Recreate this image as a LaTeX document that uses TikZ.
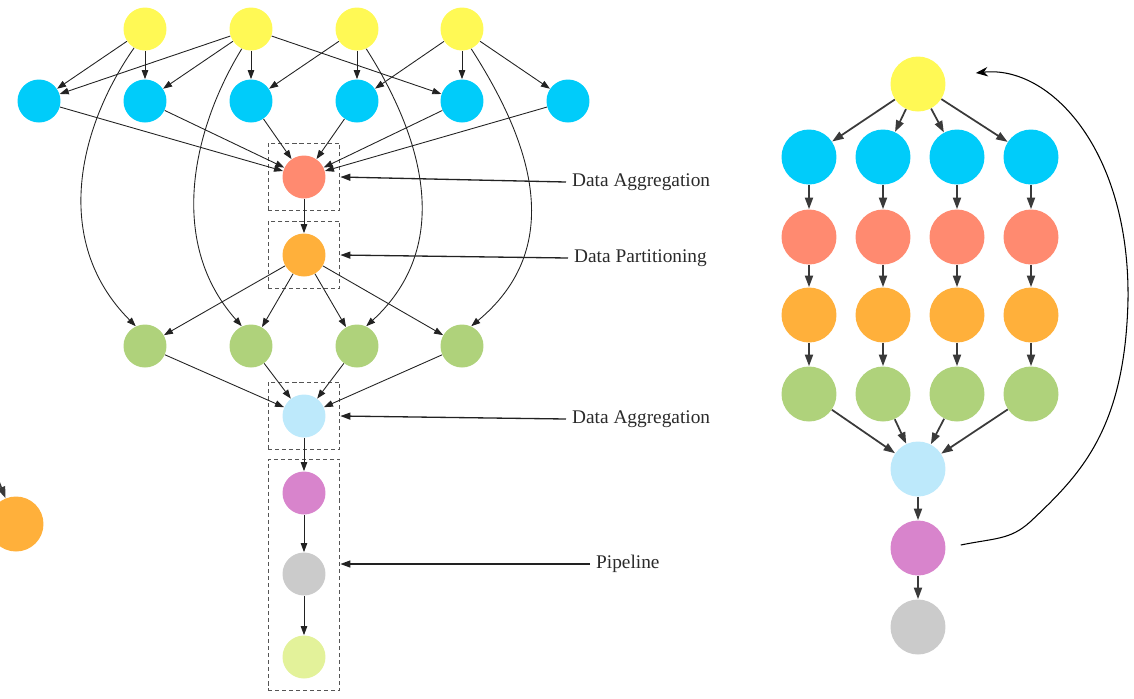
\documentclass[tikz,border=0pt]{standalone}
\usepackage{fontspec}
\setmainfont{Liberation Serif}
\usepackage{tikz}
\usetikzlibrary{arrows.meta, fit, calc}
\usepackage{xcolor}
\definecolor{NodeYellow}{HTML}{FFF955}
\definecolor{NodeBlue}{HTML}{00CCFA}
\definecolor{NodeSalmon}{HTML}{FF8A70}
\definecolor{NodeOrange}{HTML}{FFB03B}
\definecolor{NodeGreen}{HTML}{AFD27B}
\definecolor{NodeLightBlue}{HTML}{BDE9FB}
\definecolor{NodePurple}{HTML}{D884CC}
\definecolor{NodeGrey}{HTML}{CBCBCB}
\definecolor{NodeLime}{HTML}{E3F29A}
\definecolor{EdgeBlack}{HTML}{222222}
\definecolor{EdgeGray}{HTML}{3A3A3A}
\definecolor{BoxGray}{HTML}{555555}
\definecolor{TextGray}{HTML}{2A2A2A}
\tikzset{
    % Node styles - filled circles, no border
    smallnode/.style={
        circle,
        minimum size=0.86cm,
        inner sep=0pt
    },
    bignode/.style={
        circle,
        minimum size=1.1cm,
        inner sep=0pt
    },
    % Dashed group boxes
    groupbox/.style={
        rectangle,
        draw=BoxGray,
        dash pattern=on 2.3pt off 1.7pt,
        line width=0.6pt,
        inner xsep=0.28cm,
        inner ysep=0.24cm
    },
    tag/.style={
        font=\fontsize{11pt}{13pt}\selectfont,
        text=TextGray,
        anchor=west
    },
    % Arrow styles
    edge/.style={
        -{Triangle[length=1.8mm, width=1.3mm]},
        line width=0.5pt,
        draw=EdgeBlack
    },
    bigedge/.style={
        -{Triangle[length=2.3mm, width=1.6mm]},
        line width=1pt,
        draw=EdgeGray
    },
    tagarrow/.style={
        -{Triangle[length=2mm, width=1.4mm]},
        line width=0.75pt,
        draw=EdgeBlack
    },
    loopline/.style={
        -{Stealth[length=2.4mm, width=1.9mm]},
        line width=0.6pt,
        draw=black
    }
}

\begin{document}
\begin{tikzpicture}[x=0.02cm, y=0.02cm]
    \clip (0,0) rectangle (1134,-698);

    % Left graph: sources and mappers
    \foreach \x [count=\i] in {145,251,357,462} {
        \node[smallnode, fill=NodeYellow] (yL\i) at (\x,-29) {};
    }
    \foreach \x [count=\i] in {39,145,251,357,462,568} {
        \node[smallnode, fill=NodeBlue] (bL\i) at (\x,-101) {};
    }
    \node[smallnode, fill=NodeSalmon] (aggL) at (304,-177) {};
    \node[smallnode, fill=NodeOrange] (partL) at (304,-255) {};
    \foreach \x [count=\i] in {145,251,357,462} {
        \node[smallnode, fill=NodeGreen] (gL\i) at (\x,-346) {};
    }
    \node[smallnode, fill=NodeLightBlue] (merL) at (304,-416) {};
    \node[smallnode, fill=NodePurple] (p1L) at (304,-493) {};
    \node[smallnode, fill=NodeGrey] (p2L) at (304,-574) {};
    \node[smallnode, fill=NodeLime] (p3L) at (304,-657) {};

    % Dashed groups
    \node[groupbox, fit=(aggL)] (boxA) {};
    \node[groupbox, fit=(partL)] (boxP) {};
    \node[groupbox, fit=(merL)] (boxM) {};
    \node[groupbox, fit=(p1L)(p3L)] (boxPipe) {};

    % Yellow to blue
    \foreach \s/\t in {1/1, 1/2, 2/1, 2/2, 2/3, 2/5, 3/3, 3/4, 4/4, 4/5, 4/6} {
        \draw[edge] (yL\s) -- (bL\t);
    }
    \foreach \i in {1,...,6} {
        \draw[edge] (bL\i) -- (aggL);
    }
    \draw[edge] (aggL) -- (partL);
    \foreach \i in {1,...,4} {
        \draw[edge] (partL) -- (gL\i);
        \draw[edge] (gL\i) -- (merL);
    }
    \draw[edge] (merL) -- (p1L);
    \draw[edge] (p1L) -- (p2L);
    \draw[edge] (p2L) -- (p3L);

    % Long curves from yellow to green
    \draw[edge] (yL1.-120) .. controls (80,-125) and (50,-240) .. (gL1.115);
    \draw[edge] (yL2.-115) .. controls (195,-125) and (165,-240) .. (gL2.115);
    \draw[edge] (yL3.-65) .. controls (415,-125) and (460,-240) .. (gL3.65);
    \draw[edge] (yL4.-65) .. controls (520,-125) and (575,-240) .. (gL4.65);

    % Labels
    \node[tag] (tA) at (566,-182) {Data Aggregation};
    \node[tag] (tP) at (568,-258) {Data Partitioning};
    \node[tag] (tM) at (566,-419) {Data Aggregation};
    \node[tag] (tPipe) at (590,-564) {Pipeline};
    \draw[tagarrow] (tA.west) -- (boxA.east);
    \draw[tagarrow] (tP.west) -- (boxP.east);
    \draw[tagarrow] (tM.west) -- (boxM.east);
    \draw[tagarrow] (tPipe.west) -- (boxPipe.east |- tPipe.west);

    % Cut node at the left edge
    \node[bignode, fill=NodeOrange] (oCut) at (16,-524) {};
    \coordinate (offCut) at (-14,-450);
    \draw[bigedge] (offCut) -- (oCut);

    % Right graph
    \node[bignode, fill=NodeYellow] (yR) at (918,-84) {};
    \foreach \x [count=\i] in {809,883,957,1031} {
        \node[bignode, fill=NodeBlue] (bR\i) at (\x,-157) {};
        \node[bignode, fill=NodeSalmon] (sR\i) at (\x,-237) {};
        \node[bignode, fill=NodeOrange] (oR\i) at (\x,-315) {};
        \node[bignode, fill=NodeGreen] (gR\i) at (\x,-394) {};
    }
    \node[bignode, fill=NodeLightBlue] (mR) at (918,-469) {};
    \node[bignode, fill=NodePurple] (pR) at (918,-548) {};
    \node[bignode, fill=NodeGrey] (qR) at (918,-627) {};

    \foreach \i in {1,...,4} {
        \draw[bigedge] (yR) -- (bR\i);
        \draw[bigedge] (bR\i) -- (sR\i);
        \draw[bigedge] (sR\i) -- (oR\i);
        \draw[bigedge] (oR\i) -- (gR\i);
        \draw[bigedge] (gR\i) -- (mR);
    }
    \draw[bigedge] (mR) -- (pR);
    \draw[bigedge] (pR) -- (qR);

    % Feedback loop
    \draw[loopline] ($(pR.east)+(15,3)$) .. controls (995,-538) and (1010,-540) .. (1030,-522)
        .. controls (1080,-475) and (1125,-430) .. (1128,-300)
        .. controls (1130,-150) and (1050,-65) .. ($(yR.east)+(30,11)$);
\end{tikzpicture}
\end{document}
